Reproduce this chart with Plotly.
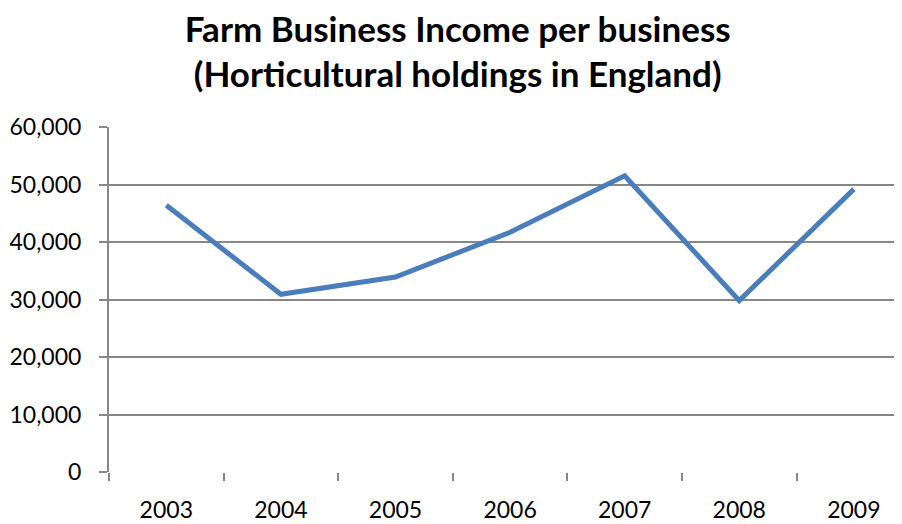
import plotly.graph_objects as go

# Farm Business Income per business, horticultural holdings (England)
years = ['2003', '2004', '2005', '2006', '2007', '2008', '2009']
income = [46400, 30900, 33900, 41700, 51500, 29800, 49200]

y_ticks = [0, 10000, 20000, 30000, 40000, 50000, 60000]

LINE_BLUE = '#4a7ebb'
GRID_GREY = '#878787'
FONT = 'Lato, Open Sans, sans-serif'

# the page body keeps an 8px margin, so the figure is 8px smaller
fig = go.Figure()

fig.add_trace(go.Scatter(
    x=years, y=income,
    mode='lines',
    line=dict(color=LINE_BLUE, width=5),
    hoverinfo='x+y',
))

fig.update_layout(
    width=894, height=516,
    paper_bgcolor='white',
    plot_bgcolor='white',
    showlegend=False,
    margin=dict(l=101, r=0, t=119, b=52, autoexpand=False),
    font=dict(family=FONT, color='black'),
    title=dict(
        text='<b>Farm Business Income per business<br>(Horticultural holdings in England)</b>',
        x=0.503, xanchor='center',
        y=0.935, yanchor='middle',
        yref='container', xref='container',
        font=dict(size=35, family=FONT, color='black'),
        automargin=False,
    ),
    xaxis=dict(
        type='category',
        range=[-0.5, 6.42],
        automargin=False,
        showgrid=False,
        showline=False,
        zeroline=False,
        ticks='outside', ticklen=8, tickwidth=2, tickcolor=GRID_GREY,
        tickson='boundaries',
        tickfont=dict(size=23),
        ticklabelstandoff=22,
    ),
    yaxis=dict(
        range=[0, 60000],
        tickvals=y_ticks,
        tickformat=',d',
        automargin=False,
        showgrid=True, gridcolor=GRID_GREY, gridwidth=2,
        zeroline=False,
        showline=True, linecolor=GRID_GREY, linewidth=2,
        ticks='outside', ticklen=8, tickwidth=2, tickcolor=GRID_GREY,
        tickfont=dict(size=23),
        ticklabelstandoff=13,
    ),
)

fig.write_html("out.html")
